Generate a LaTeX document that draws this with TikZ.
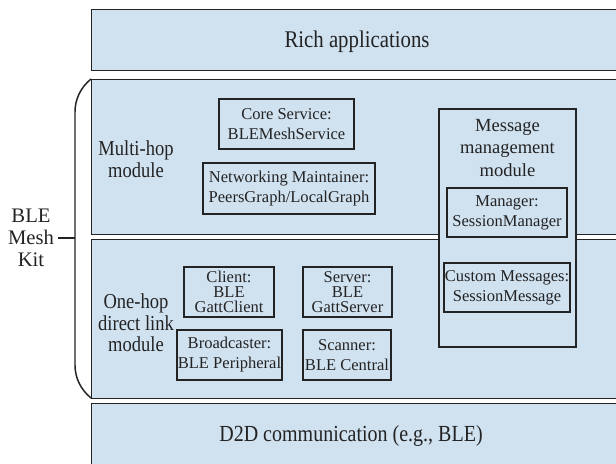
\documentclass[tikz,border=0pt]{standalone}
\usepackage{fontspec}
\setmainfont{Liberation Serif}
\definecolor{bandfill}{RGB}{208,225,240}
\definecolor{ink}{RGB}{35,35,35}
\begin{document}
\begin{tikzpicture}[x=0.75pt,y=-0.75pt,
  band/.style={draw=ink, line width=1.1pt, fill=bandfill, anchor=north west, inner sep=0pt},
  sz/.style 2 args={minimum width={#1*0.75pt}, minimum height={#2*0.75pt}},
  box/.style={draw=ink, line width=0.9pt, fill=bandfill, inner sep=0pt, align=center, text=ink, font=\fontsize{12.4}{15}\selectfont},
  tbox/.style={box, font=\fontsize{12.4}{11}\selectfont},
  lab/.style={align=center, inner sep=0pt, text=ink, font=\fontsize{13.9}{14.1}\selectfont},
  big/.style={align=center, inner sep=0pt, text=ink, font=\fontsize{15.6}{16.5}\selectfont},
  tall/.style={transform shape}]
\useasboundingbox (0,0) rectangle (616,463);
\clip (0,0) rectangle (616,463);
% bands
\node[band, sz={540}{61}] (rich) at (91,9) {};
\node[band, sz={540}{155}] (multi) at (91,79) {};
\node[band, sz={540}{159}] (onehop) at (91,239) {};
\node[band, sz={540}{70}] (d2d) at (91,403) {};
\begin{scope}[shift={(357,42)}, yscale=1.15]
  \node[big, tall] (richt) at (0,0) {Rich applications};
\end{scope}
\begin{scope}[shift={(351,436)}, yscale=1.15]
  \node[big, tall, font=\fontsize{15}{16}\selectfont] (d2dt) at (0,0) {D2D communication (e.g., BLE)};
\end{scope}
% side labels
\begin{scope}[shift={(136,159)}, yscale=1.15]
  \node[lab, tall] (multit) at (0,0) {Multi-hop\\module};
\end{scope}
\begin{scope}[shift={(136,323)}, yscale=1.15]
  \node[lab, tall] (onehopt) at (0,0) {One-hop\\direct link\\module};
\end{scope}
% BLE Mesh Kit brace
\node[big, font=\fontsize{15.5}{16.5}\selectfont] (kit) at (31,238) {BLE\\Mesh\\Kit};
\coordinate (bt) at (91,79);
\coordinate (bb) at (91,398);
\coordinate (tick) at (75,238);
\coordinate (tk) at (58,238);
\draw[ink, line width=1.1pt] (bt) .. controls (80,88) and (75,100) .. (75,112) -- (75,365) .. controls (75,377) and (80,389) .. (bb);
\draw[ink, line width=1.3pt] (tk) -- (tick);
% multi-hop boxes
\node[box, sz={135}{50}] (core) at (286.5,124) {Core Service:\\BLEMeshService};
\node[box, sz={172}{51}] (net) at (289,188.5) {Networking Maintainer:\\PeersGraph/LocalGraph};
% one-hop boxes
\node[tbox, sz={90}{50}] (client) at (229,292) {Client:\\BLE\\GattClient};
\node[tbox, sz={89}{50}] (server) at (347.5,292) {Server:\\BLE\\GattServer};
\node[box, sz={105}{50}] (bcast) at (229.5,355) {Broadcaster:\\BLE Peripheral};
\node[box, sz={88}{50}] (scan) at (347,355) {Scanner:\\BLE Central};
% message management module
\node[box, sz={137}{238}] (msg) at (507.5,228) {};
\node[lab, font=\fontsize{13.9}{16.9}\selectfont] (msgt) at (507.5,148) {Message\\management\\module};
\node[box, sz={120}{49}] (mgr) at (507,212.5) {Manager:\\SessionManager};
\node[box, sz={126}{49}] (cust) at (507,287.5) {Custom Messages:\\SessionMessage};
\end{tikzpicture}
\end{document}
